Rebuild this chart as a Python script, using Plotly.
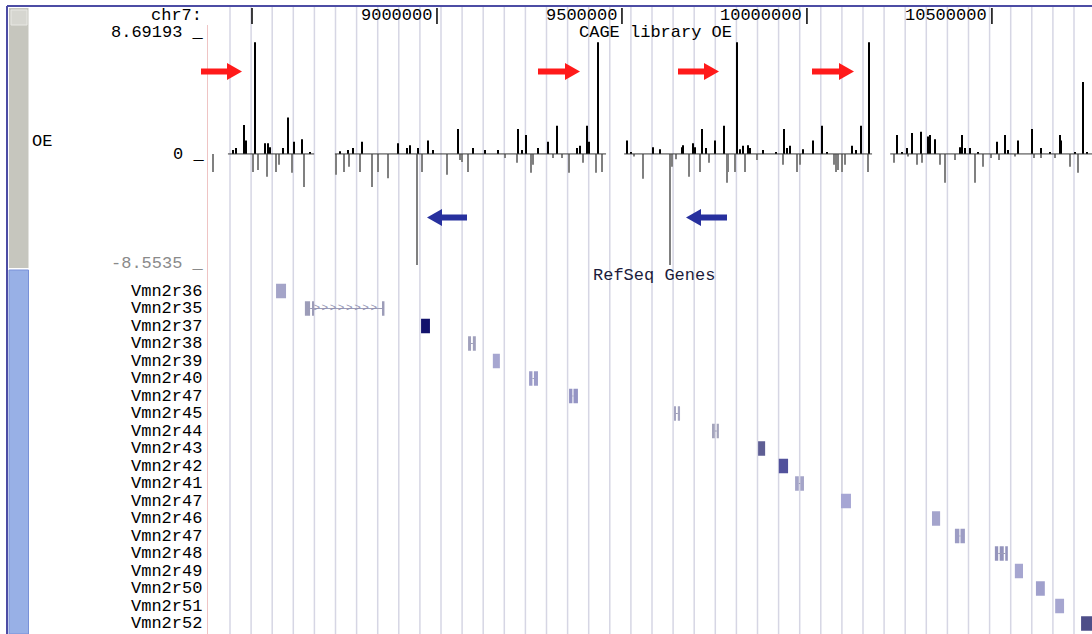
import numpy as np
import plotly.graph_objects as go

W, H = 1092, 634

# ---------------- data ----------------
X_START, X_END = 8378365, 10770520
SIG_MIN, SIG_MAX = -8.5535, 8.69193

RULER_TICKS = [8500000, 9000000, 9500000, 10000000, 10500000]
RULER_LABELS = ["", "9000000", "9500000", "10000000", "10500000"]

# CAGE signal, plus strand (black)
POS_BP = [8449000, 8457000, 8478000, 8484000, 8508000, 8535000, 8543000, 8549000, 8584000,
          8597000, 8614000, 8635000, 8657000, 8738000, 8759000, 8773000, 8797000, 8895000,
          8919000, 8927000, 8949000, 8976000, 8989000, 9057000, 9097000, 9130000, 9165000,
          9219000, 9230000, 9241000, 9273000, 9300000, 9324000, 9378000, 9387000, 9406000,
          9411000, 9435000, 9514000, 9524000, 9584000, 9603000, 9662000, 9665000, 9692000,
          9697000, 9716000, 9727000, 9751000, 9776000, 9811000, 9819000, 9827000, 9841000,
          9846000, 9881000, 9916000, 9938000, 9946000, 9954000, 9989000, 10016000, 10041000,
          10054000, 10122000, 10133000, 10146000, 10168000, 10243000, 10257000, 10270000,
          10284000, 10308000, 10327000, 10333000, 10346000, 10414000, 10419000, 10427000,
          10441000, 10462000, 10514000, 10535000, 10543000, 10570000, 10608000, 10633000,
          10657000, 10684000, 10687000, 10725000, 10746000, 10757000]
POS_VAL = [0.3, 0.45, 2.15, 1.0, 8.3, 0.8, 0.8, 0.5, 0.45,
           2.7, 0.9, 1.1, 0.15, 0.2, 0.3, 0.45, 0.9, 0.8,
           0.45, 0.65, 0.45, 1.0, 0.3, 1.85, 0.45, 0.3, 0.3,
           1.85, 0.3, 1.4, 0.45, 0.9, 2.1, 0.45, 0.6, 2.1,
           0.9, 8.3, 1.0, 0.15, 0.5, 0.35, 0.5, 0.65, 0.8,
           0.5, 1.85, 0.45, 1.0, 2.1, 8.3, 0.35, 0.6, 0.65,
           0.45, 0.3, 0.15, 1.85, 0.45, 0.6, 0.35, 1.0, 2.1,
           0.15, 0.6, 0.3, 2.1, 8.3, 1.4, 0.15, 0.45,
           1.55, 1.65, 1.3, 1.4, 1.1, 0.5, 1.4, 0.45,
           0.45, 0.15, 0.9, 1.4, 0.3, 1.0, 1.85, 0.45,
           0.15, 1.4, 1.0, 0.15, 5.35, 0.15]

# CAGE signal, minus strand (grey)
NEG_BP = [8395000, 8503000, 8516000, 8541000, 8565000, 8573000, 8608000, 8641000, 8727000,
          8749000, 8762000, 8792000, 8824000, 8841000, 8868000, 8946000, 8960000, 9027000,
          9062000, 9068000, 9084000, 9184000, 9216000, 9254000, 9260000, 9314000, 9338000,
          9357000, 9395000, 9430000, 9446000, 9532000, 9557000, 9630000, 9635000, 9646000,
          9681000, 9711000, 9735000, 9784000, 9787000, 9806000, 9833000, 9865000, 9935000,
          9973000, 9981000, 10073000, 10079000, 10084000, 10095000, 10103000, 10165000,
          10235000, 10273000, 10297000, 10311000, 10360000, 10373000, 10400000, 10454000,
          10476000, 10497000, 10519000, 10562000, 10614000, 10633000, 10671000, 10711000,
          10733000]
NEG_VAL = [-1.35, -1.35, -1.2, -1.7, -1.35, -0.8, -1.4, -2.45, -1.55,
           -1.35, -0.95, -1.35, -2.45, -1.35, -1.8, -8.25, -1.35, -1.55,
           -0.45, -0.6, -1.35, -0.3, -0.65, -1.4, -0.8, -0.3, -0.3,
           -1.4, -0.65, -1.4, -1.35, -0.2, -1.85, -8.25, -0.95, -0.4,
           -1.7, -1.35, -0.65, -2.15, -1.35, -1.35, -1.35, -0.45, -0.8,
           -1.35, -0.8, -0.8, -1.35, -1.2, -1.35, -0.8, -1.35,
           -0.65, -0.2, -0.8, -0.65, -0.8, -2.15, -0.45, -2.15,
           -0.95, -0.3, -0.45, -0.2, -0.3, -0.3, -0.3, -0.95,
           -1.4]

# stretches of the track that carry data (baseline drawn there)
COVER_START = [8435000, 8724000, 9506000, 10225000]
COVER_END = [8668000, 9457000, 10176000, 10790000]

# RefSeq genes (one row each)
GENES = ["Vmn2r36", "Vmn2r35", "Vmn2r37", "Vmn2r38", "Vmn2r39", "Vmn2r40", "Vmn2r47",
         "Vmn2r45", "Vmn2r44", "Vmn2r43", "Vmn2r42", "Vmn2r41", "Vmn2r47", "Vmn2r46",
         "Vmn2r47", "Vmn2r48", "Vmn2r49", "Vmn2r50", "Vmn2r51", "Vmn2r52"]
GENE_BLOCKS = [
    [(8565000, 8592000)],
    [(8643000, 8657000), (8664000, 8667000), (8854000, 8858000)],
    [(8957000, 8981000)],
    [(9084000, 9092000), (9097000, 9105000)],
    [(9151000, 9170000)],
    [(9249000, 9258000), (9262000, 9273000)],
    [(9357000, 9366000), (9369000, 9381000)],
    [(9641000, 9646000), (9651000, 9657000)],
    [(9746000, 9751000), (9756000, 9762000)],
    [(9868000, 9887000)],
    [(9924000, 9949000)],
    [(9968000, 9978000), (9982000, 9992000)],
    [(10092000, 10119000)],
    [(10338000, 10360000)],
    [(10400000, 10412000), (10415000, 10427000)],
    [(10508000, 10517000), (10521000, 10532000), (10536000, 10543000)],
    [(10562000, 10584000)],
    [(10619000, 10643000)],
    [(10671000, 10695000)],
    [(10741000, 10790000)],
]
GENE_COLORS = ["#a4a4c8", "#9c9cb8", "#12126c", "#a0a0bc", "#a6a6d0", "#9c9cc8", "#9494c4",
               "#a4a4c0", "#a4a4bc", "#5e5e94", "#52529c", "#a4a4c8", "#a6a6d4", "#a4a4cc",
               "#9c9cc4", "#9494bc", "#a6a6d0", "#a0a0cc", "#a6a6d0", "#4e4e88"]

# ---------------- style helpers ----------------
FONT = "Liberation Mono"
FS = 17


def px(x):
    return x / W


def py(y):
    return 1 - y / H


GRID_START, GRID_STEP = 8440534, 57033
grid_x = np.arange(GRID_START, X_END, GRID_STEP)

fig = go.Figure()

# baseline of the wiggle
bx, by = [], []
for s, e in zip(COVER_START, COVER_END):
    bx += [s, e, None]
    by += [0, 0, None]
fig.add_trace(go.Scatter(x=bx, y=by, mode="lines", line=dict(color="#3a3a3a", width=1),
                         hoverinfo="skip", xaxis="x", yaxis="y"))

fig.add_trace(go.Bar(x=NEG_BP, y=NEG_VAL, width=4000, marker=dict(color="#808080", line=dict(width=0)),
                     xaxis="x", yaxis="y"))
fig.add_trace(go.Bar(x=POS_BP, y=POS_VAL, width=4000, marker=dict(color="#000000", line=dict(width=0)),
                     xaxis="x", yaxis="y"))

# gene introns
ix, iy = [], []
for i, blocks in enumerate(GENE_BLOCKS):
    if len(blocks) > 1:
        ix += [blocks[0][1], blocks[-1][0], None]
        iy += [i, i, None]
fig.add_trace(go.Scatter(x=ix, y=iy, mode="lines", line=dict(color="#9c9cb8", width=1),
                         hoverinfo="skip", xaxis="x", yaxis="y2"))

# chevrons on the long intron of Vmn2r35
b = GENE_BLOCKS[1]
chev = np.arange(b[1][1] + 8000, b[2][0] - 5000, 22000)
fig.add_trace(go.Scatter(x=chev, y=[1] * len(chev), mode="text", text=[">"] * len(chev),
                         textfont=dict(family=FONT, size=11, color="#9090b0"),
                         hoverinfo="skip", xaxis="x", yaxis="y2"))

# gene blocks
gb, gl, gy, gc = [], [], [], []
for i, blocks in enumerate(GENE_BLOCKS):
    for s, e in blocks:
        gb.append(s)
        gl.append(e - s)
        gy.append(i)
        gc.append(GENE_COLORS[i])
fig.add_trace(go.Bar(base=gb, x=gl, y=gy, orientation="h", width=0.82,
                     marker=dict(color=gc, line=dict(width=0)), xaxis="x", yaxis="y2"))

shapes = []
# guidelines
for gx in grid_x:
    shapes.append(dict(type="line", xref="x", yref="paper", x0=gx, x1=gx, y0=0, y1=py(7),
                       line=dict(color="#d6d6e4", width=1.5), layer="below"))
# left edge of the data area
shapes.append(dict(type="line", xref="paper", yref="paper", x0=px(207.5), x1=px(207.5),
                   y0=0, y1=py(25), line=dict(color="#efc4c4", width=1), layer="below"))
# side bars
shapes.append(dict(type="rect", xref="paper", yref="paper", x0=px(9), x1=px(28.5),
                   y0=py(268), y1=py(8), fillcolor="#c6c6be", line=dict(width=0)))
shapes.append(dict(type="rect", xref="paper", yref="paper", x0=px(11), x1=px(27),
                   y0=py(25), y1=py(10), fillcolor="#d6d6d0",
                   line=dict(color="#e8e8e4", width=1)))
shapes.append(dict(type="rect", xref="paper", yref="paper", x0=px(9), x1=px(28.5),
                   y0=0, y1=py(270), fillcolor="#98b0e6", line=dict(color="#7890d8", width=1)))
# outer frame
shapes.append(dict(type="line", xref="paper", yref="paper", x0=px(7), x1=1, y0=py(6), y1=py(6),
                   line=dict(color="#4c4ca4", width=2)))
shapes.append(dict(type="line", xref="paper", yref="paper", x0=px(7), x1=px(7), y0=0, y1=py(6),
                   line=dict(color="#4c4ca4", width=2)))
# ruler ticks
for t in RULER_TICKS:
    shapes.append(dict(type="line", xref="x", yref="paper", x0=t, x1=t, y0=py(24), y1=py(8),
                       line=dict(color="#000000", width=1.5)))

# red / blue arrows (tail_px, tip_px, y_px, colour)
ARROWS = [(201, 242, 71.5, "#ff1a1a"), (538, 580, 71.5, "#ff1a1a"),
          (678, 719, 71.5, "#ff1a1a"), (812, 854, 71.5, "#ff1a1a"),
          (467, 427, 217.5, "#27309e"), (727, 686, 217.5, "#27309e")]
for tail, tip, yy, col in ARROWS:
    d = 1 if tip > tail else -1
    hb = tip - 15 * d
    pts = [(tail, yy - 3), (hb, yy - 3), (hb, yy - 8.5), (tip, yy), (hb, yy + 8.5),
           (hb, yy + 3), (tail, yy + 3)]
    path = "M " + " L ".join(f"{px(a):.5f},{py(c):.5f}" for a, c in pts) + " Z"
    shapes.append(dict(type="path", xref="paper", yref="paper", path=path,
                       fillcolor=col, line=dict(width=0)))

ann = []


def label(text, x, y, xanchor="right", color="#000000", size=FS):
    ann.append(dict(text=text, x=px(x), y=py(y), xref="paper", yref="paper",
                    xanchor=xanchor, yanchor="middle", showarrow=False,
                    font=dict(family=FONT, size=size, color=color)))


label("chr7:", 204, 16)
label("8.69193 _", 206, 32)
label("0 _", 206, 154)
label("-8.5535 _", 206, 263, color="#8a8a8a")
label("OE", 30, 142, xanchor="left")
label("CAGE library OE", 655, 32, xanchor="center")
label("RefSeq Genes", 654, 275, xanchor="center", color="#1c1c3c")

for t, lab in zip(RULER_TICKS, RULER_LABELS):
    if lab:
        ann.append(dict(text=lab, x=t, y=py(16), xref="x", yref="paper", xanchor="right",
                        yanchor="middle", xshift=-3, showarrow=False,
                        font=dict(family=FONT, size=FS, color="#000000")))

# gene names, one per row of the gene axis
for i, g in enumerate(GENES):
    ann.append(dict(text=g, x=px(204), y=i, xref="paper", yref="y2", xanchor="right",
                    yanchor="middle", showarrow=False,
                    font=dict(family=FONT, size=FS, color="#000000")))

fig.update_layout(
    width=W, height=H, autosize=False,
    margin=dict(l=0, r=0, t=0, b=0, pad=0),
    paper_bgcolor="#ffffff", plot_bgcolor="rgba(0,0,0,0)",
    showlegend=False, barmode="overlay",
    shapes=shapes, annotations=ann,
    xaxis=dict(domain=[px(207), 1], range=[X_START, X_END], visible=False, anchor="y"),
    yaxis=dict(domain=[py(269), py(37)], range=[SIG_MIN, SIG_MAX], visible=False, anchor="x"),
    yaxis2=dict(domain=[py(632.25), py(282.25)], range=[19.5, -0.5], anchor="x",
                visible=False, showgrid=False, zeroline=False),
)

fig.write_html("out.html", config={"displayModeBar": False},
               post_script="document.body.style.margin='0';document.body.style.overflow='hidden';")
